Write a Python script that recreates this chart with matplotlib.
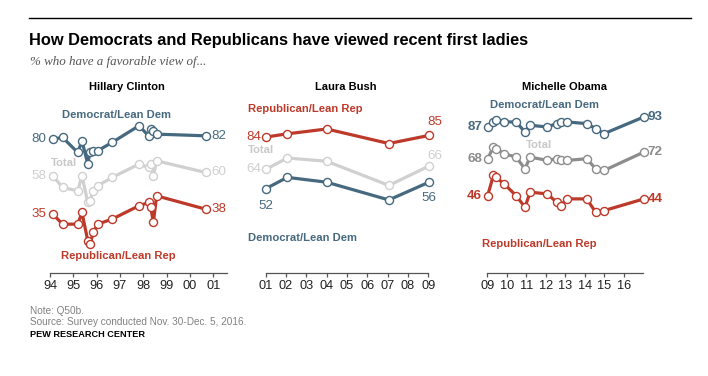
import matplotlib
matplotlib.use("Agg")
import matplotlib.pyplot as plt

W, H = 708, 376
DEM = "#46697F"
REP = "#BD3A2A"
TOT_LIGHT = "#D0D0D0"
TOT_DARK = "#8C8C8C"

# ---- data ----
hc_years = [1994.12, 1994.54, 1995.19, 1995.37, 1995.62, 1995.71, 1995.86, 1996.04,
            1996.66, 1997.81, 1998.23, 1998.32, 1998.43, 1998.57, 2000.67]
hc_dem = [80, 81, 72, 79, 65, 72, 73, 73, 78, 88, 82, 86, 85, 83, 82]
hc_tot = [58, 51, 49, 58, 42, 43, 49, 52, 57, 65, 63, 65, 58, 67, 60]
hc_rep = [35, 29, 29, 36, 19, 17, 24, 29, 32, 40, 42, 39, 30, 46, 38]

lb_years = [2001.01, 2002.06, 2004.0, 2007.06, 2009.03]
lb_rep = [84, 86, 89, 80, 85]
lb_tot = [64, 71, 69, 54, 66]
lb_dem = [52, 59, 56, 45, 56]

mo_years = [2009.02, 2009.31, 2009.43, 2009.86, 2010.47, 2010.93, 2011.19, 2012.07,
            2012.55, 2012.76, 2013.06, 2014.09, 2014.55, 2014.98, 2017.02]
mo_dem = [87, 90, 91, 90, 90, 84, 88, 87, 89, 90, 90, 89, 86, 83, 93]
mo_tot = [68, 75, 74, 71, 69, 62, 69, 67, 68, 67, 67, 68, 62, 61, 72]
mo_rep = [46, 58, 57, 53, 46, 39, 48, 47, 42, 40, 44, 44, 36, 37, 44]

hc_ticks = list(range(1994, 2002))
lb_ticks = list(range(2001, 2010))
mo_ticks = list(range(2009, 2017))

FONT = "Liberation Sans"
plt.rcParams['font.family'] = [FONT, 'DejaVu Sans']

fig = plt.figure(figsize=(W / 100, H / 100), dpi=100)
fig.patch.set_facecolor("white")


def ftext(x, y, s, **kw):
    fig.text(x / W, 1 - y / H, s, **kw)


def make_ax(x0, x1, xlim, ymax, ticks):
    bottom = 272.5
    top = 100.0
    ax = fig.add_axes([x0 / W, 1 - bottom / H, (x1 - x0) / W, (bottom - top) / H])
    ax.set_xlim(*xlim)
    ax.set_ylim(0, ymax)
    for s in ["top", "right", "left"]:
        ax.spines[s].set_visible(False)
    ax.spines["bottom"].set_color("#555555")
    ax.spines["bottom"].set_linewidth(0.9)
    ax.set_yticks([])
    ax.set_xticks(ticks)
    ax.set_xticklabels([f"{t % 100:02d}" for t in ticks])
    ax.tick_params(axis="x", length=3, width=0.9, color="#555555", labelsize=9.2,
                   labelcolor="#222222", pad=2.5)
    ax.patch.set_alpha(0)
    return ax


def series(ax, x, y, color, lw=2.3):
    ax.plot(x, y, color=color, lw=lw, marker="o", ms=5.8, mfc="white", mec=color,
            mew=1.0, clip_on=False, solid_joinstyle="round", zorder=3)


def lab(ax, x, y, s, color, dx, dy, ha, bold=False):
    ax.annotate(s, xy=(x, y), xytext=(dx, dy), textcoords="offset points", ha=ha,
                va="center", color=color, fontsize=9.6,
                fontweight="bold" if bold else "normal", annotation_clip=False)


# ---- Hillary Clinton ----
ax1 = make_ax(50, 227.3, (1994, 1994 + 177.3 / 23.33), 172.5 / 1.667, hc_ticks)
series(ax1, hc_years, hc_tot, TOT_LIGHT)
series(ax1, hc_years, hc_dem, DEM)
series(ax1, hc_years, hc_rep, REP)
for ys, c in [(hc_dem, DEM), (hc_tot, TOT_LIGHT), (hc_rep, REP)]:
    lab(ax1, hc_years[0], ys[0], str(ys[0]), c, -4.5, 0, "right")
    lab(ax1, hc_years[-1], ys[-1], str(ys[-1]), c, 4.5, 0, "left")

# ---- Laura Bush ----
ax2 = make_ax(265.7, 428.3, (2001, 2009), 172.5 / 1.6125, lb_ticks)
series(ax2, lb_years, lb_tot, TOT_LIGHT)
series(ax2, lb_years, lb_dem, DEM)
series(ax2, lb_years, lb_rep, REP)
lab(ax2, lb_years[0], lb_rep[0], str(lb_rep[0]), REP, -3.5, 0, "right")
lab(ax2, lb_years[-1], lb_rep[-1], str(lb_rep[-1]), REP, 4, 9.5, "center")
lab(ax2, lb_years[0], lb_tot[0], str(lb_tot[0]), TOT_LIGHT, -3.5, 0, "right")
lab(ax2, lb_years[-1], lb_tot[-1], str(lb_tot[-1]), TOT_LIGHT, 4, 7.5, "center")
lab(ax2, lb_years[0], lb_dem[0], str(lb_dem[0]), DEM, 0, -12.5, "center")
lab(ax2, lb_years[-1], lb_dem[-1], str(lb_dem[-1]), DEM, 0, -11.5, "center")

# ---- Michelle Obama ----
ax3 = make_ax(487.3, 643.3, (2009, 2009 + 156 / 19.53), 172.5 / 1.673, mo_ticks)
series(ax3, mo_years, mo_tot, TOT_DARK)
series(ax3, mo_years, mo_dem, DEM)
series(ax3, mo_years, mo_rep, REP)
for ys, c in [(mo_dem, DEM), (mo_tot, TOT_DARK), (mo_rep, REP)]:
    lab(ax3, mo_years[0], ys[0], str(ys[0]), c, -4, 0, "right", bold=True)
    lab(ax3, mo_years[-1], ys[-1], str(ys[-1]), c, 2.5, 0, "left", bold=True)

# ---- series names ----
kw = dict(fontsize=8.1, fontweight="bold", va="center")
TOTC = "#C8C8C8"
ftext(116.7, 114.5, "Democrat/Lean Dem", color=DEM, ha="center", **kw)
ftext(64.3, 163.5, "Total", color=TOTC, ha="center", **kw)
ftext(118.3, 256, "Republican/Lean Rep", color=REP, ha="center", **kw)

ftext(248.3, 109, "Republican/Lean Rep", color=REP, ha="left", **kw)
ftext(248.3, 150, "Total", color=TOTC, ha="left", **kw)
ftext(248.3, 238, "Democrat/Lean Dem", color=DEM, ha="left", **kw)

ftext(545, 105, "Democrat/Lean Dem", color=DEM, ha="center", **kw)
ftext(539.3, 145, "Total", color=TOTC, ha="center", **kw)
ftext(539.3, 244, "Republican/Lean Rep", color=REP, ha="center", **kw)

# ---- panel titles ----
tk = dict(fontsize=8, fontweight="bold", color="black", va="center", ha="center")
ftext(127.3, 86.7, "Hillary Clinton", **tk)
ftext(346, 86.7, "Laura Bush", **tk)
ftext(564, 86.7, "Michelle Obama", **tk)

# ---- header ----
fig.add_artist(plt.Line2D([29 / W, 691 / W], [1 - 18 / H, 1 - 18 / H], color="black", lw=1.0))
ftext(29, 40, "How Democrats and Republicans have viewed recent first ladies",
      fontsize=11.8, fontweight="bold", color="black", va="center", ha="left")
ftext(30, 62, "% who have a favorable view of...", fontsize=9.4, style="italic",
      color="#555555", va="center", ha="left", family=["Liberation Serif", "DejaVu Serif"])

# ---- footer ----
ftext(30, 311, "Note: Q50b.", fontsize=7.2, color="#808080", va="center", ha="left")
ftext(30, 322, "Source: Survey conducted Nov. 30-Dec. 5, 2016.", fontsize=7.2,
      color="#808080", va="center", ha="left")
ftext(30, 334.5, "PEW RESEARCH CENTER", fontsize=6.6, fontweight="bold", color="black",
      va="center", ha="left")

fig.savefig("out.png", dpi=100, facecolor="white")
